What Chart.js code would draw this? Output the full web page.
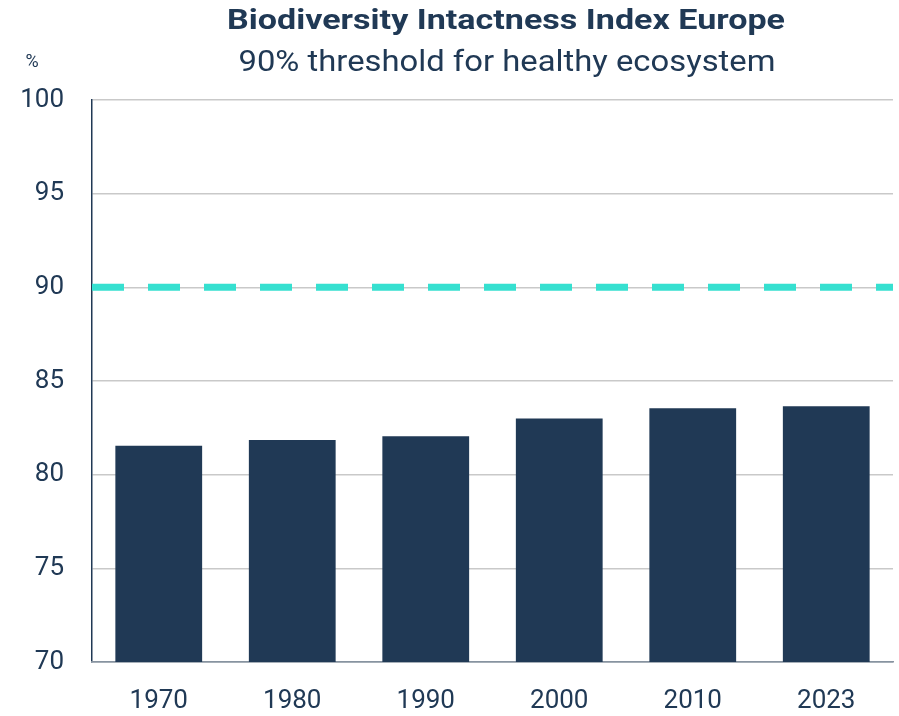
<!DOCTYPE html>
<html>
<head>
<meta charset="utf-8">
<script src="https://cdn.jsdelivr.net/npm/chart.js@4"></script>
<style>
  body { margin: 0; background: #fff; }
  #wrap { width: 899px; height: 716px; }
</style>
</head>
<body>
<div id="wrap"><canvas id="biiChart" width="899" height="716"></canvas></div>
<script>
const years = ['1970', '1980', '1990', '2000', '2010', '2023'];
const biiValues = [81.55, 81.85, 82.05, 83.0, 83.55, 83.65];
const threshold = 90;
const yTicks = [70, 75, 80, 85, 90, 95, 100];

const navy = '#203955';
const fontFamily = 'Roboto, "Open Sans", sans-serif';

// draw text centred at (cx, cy), stretched to a given width
function drawFitted(ctx, text, cx, cy, width, font) {
    ctx.save();
    ctx.font = font;
    const w = ctx.measureText(text).width;
    ctx.translate(cx, cy);
    ctx.scale(width / w, 1);
    ctx.fillText(text, 0, 0);
    ctx.restore();
}

// titles, unit label and the 90% threshold line
const extras = {
    id: 'extras',
    afterDatasetsDraw(chart) {
        const ctx = chart.ctx;
        const area = chart.chartArea;
        const y = chart.scales.y.getPixelForValue(threshold);
        ctx.save();
        ctx.strokeStyle = '#36e0d0';
        ctx.lineWidth = 7;
        ctx.setLineDash([32, 24]);
        ctx.beginPath();
        ctx.moveTo(area.left, y);
        ctx.lineTo(area.right, y);
        ctx.stroke();
        ctx.setLineDash([]);

        ctx.fillStyle = navy;
        ctx.textAlign = 'center';
        ctx.textBaseline = 'middle';
        drawFitted(ctx, 'Biodiversity Intactness Index Europe', 506, 22, 558, 'bold 27px ' + fontFamily);
        drawFitted(ctx, '90% threshold for healthy ecosystem', 507, 64, 537, '29px ' + fontFamily);
        ctx.font = '18px ' + fontFamily;
        ctx.fillText('%', 32, 62);
        ctx.restore();
    }
};

const data = {
    labels: years,
    datasets: [{
        label: 'BII',
        data: biiValues,
        backgroundColor: navy,
        barPercentage: 0.65,
        categoryPercentage: 1.0
    }]
};

const config = {
    type: 'bar',
    data: data,
    options: {
        responsive: false,
        animation: false,
        layout: { padding: { top: 100, right: 6, left: 0, bottom: 0 } },
        plugins: {
            legend: { display: false },
            tooltip: { enabled: false }
        },
        scales: {
            y: {
                min: 70,
                max: 100,
                afterBuildTicks: (scale) => { scale.ticks = yTicks.map(v => ({ value: v })); },
                afterFit: (scale) => { scale.width = 92; },
                ticks: {
                    padding: 28,
                    color: navy,
                    font: { family: fontFamily, size: 26 }
                },
                grid: {
                    color: (c) => c.tick && c.tick.value === 70 ? '#8793a0' : '#c9c9c9',
                    lineWidth: 1.5,
                    drawTicks: false
                },
                border: { display: true, color: navy, width: 1.5 }
            },
            x: {
                afterFit: (scale) => { scale.height = 54; },
                ticks: {
                    padding: 24,
                    color: navy,
                    font: { family: fontFamily, size: 26 }
                },
                grid: { display: false, drawTicks: false },
                border: { display: true, color: '#8793a0', width: 1.5 }
            }
        }
    },
    plugins: [extras]
};

const ctx = document.getElementById('biiChart').getContext('2d');
new Chart(ctx, config);
</script>
</body>
</html>
